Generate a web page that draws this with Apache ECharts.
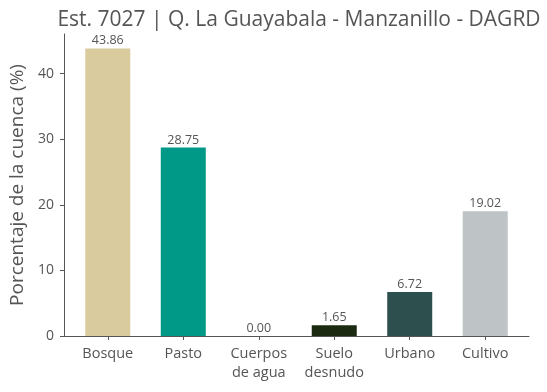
<!DOCTYPE html>
<html><head><meta charset="utf-8">
<script src="https://cdn.jsdelivr.net/npm/echarts@6/dist/echarts.min.js"></script>
<style>html,body{margin:0;padding:0;background:#fff}#c{width:547px;height:392px}</style>
</head><body><div id="c"></div>
<script>
const categories = ["Bosque", "Pasto", "Cuerpos\nde agua", "Suelo\ndesnudo", "Urbano", "Cultivo"];
const values = [43.86, 28.75, 0.00, 1.65, 6.72, 19.02];
const colors = ["#d9cb9d", "#009886", "#2f7fb8", "#1b2a11", "#2d4f4e", "#bec3c6"];
const yTicks = [0, 10, 20, 30, 40];
const titleText = "Est. 7027 | Q. La Guayabala - Manzanillo - DAGRD";
const yName = "Porcentaje de la cuenca (%)";

const FONT = "Open Sans";
const chart = echarts.init(document.getElementById('c'), null, {renderer: 'canvas'});
const idx = categories.map((_, i) => i);
chart.setOption({
  animation: false,
  textStyle: {fontFamily: FONT},
  title: {text: titleText, left: 294, top: 5, textAlign: 'center',
    textStyle: {fontFamily: FONT, fontSize: 21, fontWeight: 'normal', color: '#555'}},
  grid: {left: 64, right: 18, top: 34, bottom: 56, containLabel: false},
  xAxis: {type: 'value', min: -0.58, max: 5.58,
    axisLine: {show: true, onZero: false, lineStyle: {color: '#555', width: 1}},
    axisTick: {show: true, customValues: idx, length: 4, lineStyle: {color: '#555'}},
    axisLabel: {customValues: idx, formatter: v => categories[Math.round(v)], color: '#555',
      fontSize: 14.5, lineHeight: 19, margin: 8, fontFamily: FONT},
    splitLine: {show: false}},
  yAxis: {type: 'value', min: 0, max: 46.053,
    name: yName, nameLocation: 'middle', nameGap: 37, nameRotate: 90,
    nameTextStyle: {fontSize: 19, color: '#555', fontFamily: FONT},
    axisLine: {show: true, onZero: false, lineStyle: {color: '#555', width: 1}},
    axisTick: {show: true, customValues: yTicks, length: 4, lineStyle: {color: '#555'}},
    axisLabel: {customValues: yTicks, color: '#555', fontSize: 14, margin: 10, fontFamily: FONT},
    splitLine: {show: false}},
  series: [{type: 'bar', barWidth: 45,
    data: values.map((v, i) => ({value: [i, v], itemStyle: {color: colors[i]}})),
    label: {show: true, position: 'top', distance: 1, color: '#555', fontSize: 12.5, fontFamily: FONT,
      formatter: p => p.value[1].toFixed(2)}}]
});
</script></body></html>
